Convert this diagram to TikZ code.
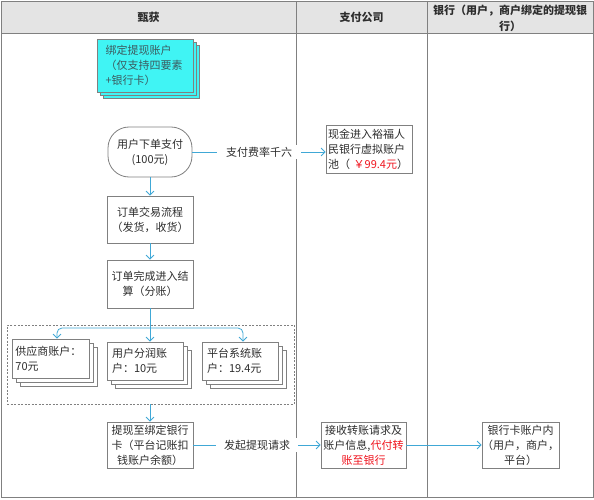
\documentclass[tikz,border=0pt]{standalone}
\usepackage{fontspec}
\setmainfont{Noto Sans CJK SC}
\usetikzlibrary{arrows.meta,shadows,calc}
\definecolor{connc}{RGB}{64,168,214}
\definecolor{bord}{RGB}{128,128,128}
\definecolor{hdr}{RGB}{228,228,228}
\definecolor{cyanfill}{RGB}{64,244,244}
\definecolor{txt}{RGB}{45,45,45}
\definecolor{cyantxt}{RGB}{60,90,95}
\definecolor{redt}{RGB}{240,20,30}
\tikzset{
  box/.style={draw=bord, line width=0.8pt, fill=white, text=txt, inner sep=0pt, align=center},
  stackbox/.style={box, double copy shadow={shadow xshift=4pt, shadow yshift=-4pt, draw=bord, fill=white, line width=0.8pt}},
  arr/.style={draw=connc, line width=0.8pt, -{Straight Barb[length=4pt,width=8pt]}},
  connline/.style={draw=connc, line width=0.8pt},
  lane/.style={draw=bord, line width=0.8pt},
  hdrtext/.style={text=txt, font=\fontsize{11}{16}\selectfont\bfseries, align=center, inner sep=0pt},
  lbl/.style={fill=white, text=txt, inner ysep=2pt}
}
\begin{document}
\begin{tikzpicture}[x=1pt, y=-1pt, font=\fontsize{11}{15}\selectfont]
\useasboundingbox (0,0) rectangle (594,500);
% frame
\fill[white] (0,0) rectangle (594,500);
\draw[lane, fill=hdr] (1,1) rectangle (593,33);
\draw[lane] (1,1) rectangle (593,497);
\draw[lane] (296,1) -- (296,497);
\draw[lane] (427,1) -- (427,497);
\node[hdrtext] (h1) at (148.5,17) {甄获};
\node[hdrtext] (h2) at (361.5,17) {支付公司};
\node[hdrtext, text width=166pt] (h3) at (510,18) {银行（用户，商户绑定的提现银\\行）};
% group
\node[draw=bord, line width=0.8pt, dash pattern=on 2pt off 1.5pt, minimum width=287pt, minimum height=79pt, inner sep=0pt] (grp) at (150.5,364.5) {};
% nodes
\node[box, fill=cyanfill, text=cyantxt, draw=bord, double copy shadow={shadow xshift=3pt, shadow yshift=-3pt, draw=bord, fill=cyanfill, line width=0.8pt}, text width=80pt, inner xsep=8pt, minimum height=53pt, align=left] (bind) at (145.5,65.5) {绑定提现账户\\（仅支持四要素\\+银行卡）};
\node[box, rounded corners=21pt, minimum width=84pt, minimum height=50pt] (pay) at (150,152) {用户下单支付\\(100元)};
\node[box, text width=82pt, inner xsep=2pt, minimum height=48pt, align=left] (pool) at (369,149) {现金进入裕福人\\民银行虚拟账户\\池（~\textcolor{redt}{￥99.4元}）};
\node[box, minimum width=86pt, minimum height=47pt] (flow) at (150,219.5) {订单交易流程\\（发货，收货）};
\node[box, minimum width=86pt, minimum height=48pt] (settle) at (150,284) {订单完成进入结\\算（分账）};
\node[stackbox, text width=70pt, inner xsep=3.5pt, minimum height=39pt, align=left] (sup) at (50.5,358.5) {供应商账户：\\70元};
\node[stackbox, text width=66pt, inner xsep=5pt, minimum height=38pt, align=left] (usr) at (145,361) {用户分润账\\户：10元};
\node[stackbox, text width=66pt, inner xsep=5pt, minimum height=38pt, align=left] (plat) at (240,361) {平台系统账\\户：19.4元};
\node[box, minimum width=86pt, minimum height=46pt] (withdraw) at (150,445) {提现至绑定银行\\卡（平台记账扣\\钱账户余额）};
\node[box, minimum width=85pt, minimum height=46pt] (recv) at (363.5,445) {接收转账请求及\\账户信息,\textcolor{redt}{代付转}\\\textcolor{redt}{账至银行}};
\node[box, minimum width=75pt, minimum height=46pt] (bank) at (520.5,445) {银行卡账户内\\（用户，商户，\\平台）};
% connectors
\draw[arr] (pay.east) -- node[lbl, inner xsep=9pt] (l1) {支付费率千六} (pay.east -| pool.west);
\draw[arr] (pay.south) -- (flow.north);
\draw[arr] (flow.south) -- (settle.north);
\coordinate (br) at (150,328);
\draw[connline] (settle.south) -- (br);
\draw[arr, rounded corners=5pt] (br) -| ([xshift=6.5pt]sup.north);
\draw[arr, rounded corners=5pt] (br) -| ([xshift=3pt]plat.north);
\draw[arr] (br) -- (br |- usr.north);
\draw[arr] (grp.south -| withdraw.north) -- (withdraw.north);
\draw[arr] (withdraw.east) -- node[lbl, inner xsep=8pt] (l2) {发起提现请求} (recv.west);
\draw[arr] (recv.east) -- (bank.west);
\end{tikzpicture}
\end{document}
